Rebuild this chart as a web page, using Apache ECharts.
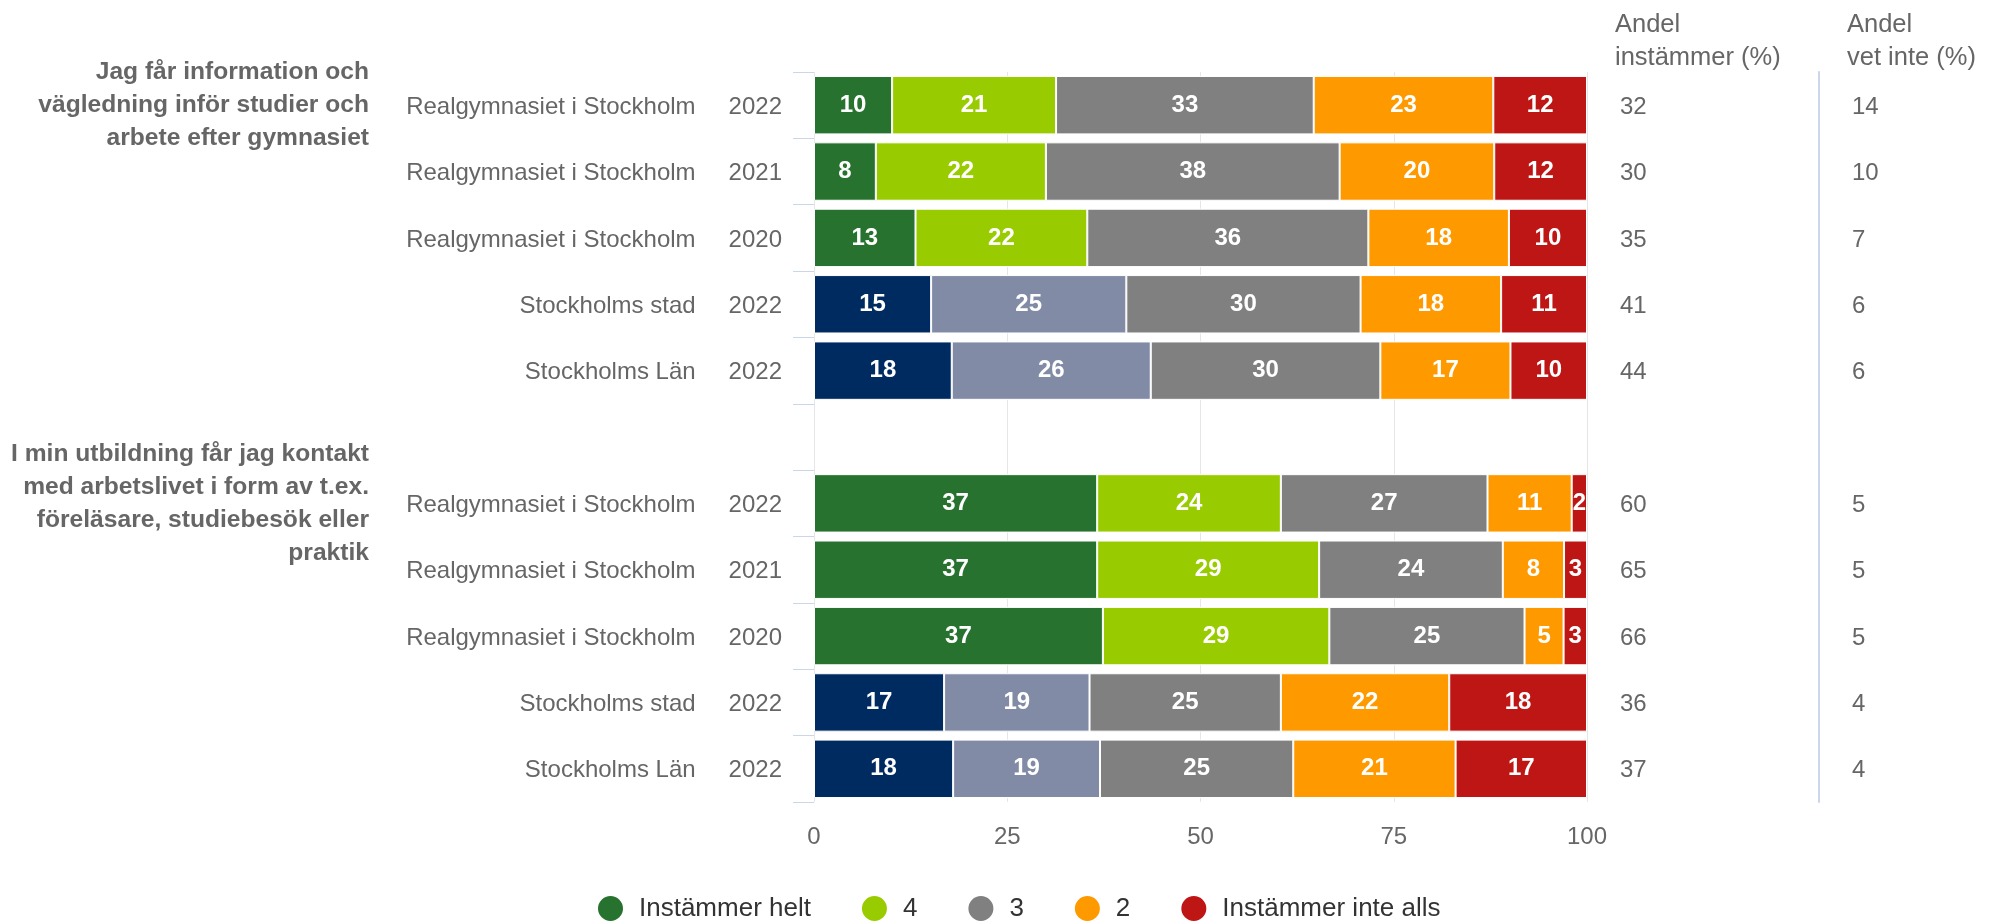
<!DOCTYPE html>
<html>
<head>
<meta charset="utf-8">
<style>
    html, body { margin: 0; padding: 0; background: #fff; }
    #chart { width: 1994px; height: 922px; }
</style>
<script src="https://cdn.jsdelivr.net/npm/echarts@6/dist/echarts.min.js"></script>
</head>
<body>
<div id="chart"></div>
<script>
// Rows, top to bottom (empty row separates the two questions)
var rowNames = [
    'Realgymnasiet i Stockholm', 'Realgymnasiet i Stockholm', 'Realgymnasiet i Stockholm',
    'Stockholms stad', 'Stockholms Län', '',
    'Realgymnasiet i Stockholm', 'Realgymnasiet i Stockholm', 'Realgymnasiet i Stockholm',
    'Stockholms stad', 'Stockholms Län'
];
var rowYears = ['2022', '2021', '2020', '2022', '2022', '', '2022', '2021', '2020', '2022', '2022'];
var questions = [
    'Jag får information och\nvägledning inför studier och\narbete efter gymnasiet', '', '', '', '', '',
    'I min utbildning får jag kontakt\nmed arbetslivet i form av t.ex.\nföreläsare, studiebesök eller\npraktik', '', '', '', ''
];

// Series values (%)
var seriesNames = ['Instämmer helt', '4', '3', '2', 'Instämmer inte alls'];
var helt      = [10, 8, 13, 15, 18, null, 37, 37, 37, 17, 18];
var fyra      = [21, 22, 22, 25, 26, null, 24, 29, 29, 19, 19];
var tre       = [33, 38, 36, 30, 30, null, 27, 24, 25, 25, 25];
var tva       = [23, 20, 18, 18, 17, null, 11, 8, 5, 22, 21];
var inteAlls  = [12, 12, 10, 11, 10, null, 2, 3, 3, 18, 17];

// Side columns
var andelInstammer = ['32', '30', '35', '41', '44', '', '60', '65', '66', '36', '37'];
var andelVetInte   = ['14', '10', '7', '6', '6', '', '5', '5', '5', '4', '4'];

// Tick labels
var xTicks = [0, 25, 50, 75, 100];

var seriesValues = [helt, fyra, tre, tva, inteAlls];
var seriesColors = ['#26722E', '#99CC00', '#808080', '#FF9900', '#BE1515'];
var compareColors = ['#002B60', '#828BA6'];

var chart = echarts.init(document.getElementById('chart'));

// row totals, used to stack as percent
var totals = rowNames.map(function (n, i) {
    var s = 0;
    seriesValues.forEach(function (arr) { s += arr[i] || 0; });
    return s;
});

var series = seriesValues.map(function (arr, k) {
    return {
        name: seriesNames[k],
        type: 'bar',
        stack: 'total',
        barCategoryGap: '12%',
        itemStyle: {
            color: seriesColors[k],
            borderColor: '#fff',
            borderWidth: 1
        },
        label: {
            show: true,
            position: 'inside',
            color: '#fff',
            fontWeight: 'bold',
            fontSize: 24,
            formatter: function (p) {
                return arr[p.dataIndex];
            }
        },
        emphasis: { disabled: true },
        data: arr.map(function (v, i) {
            if (v === null) return '-';
            var item = { value: v / totals[i] * 100 };
            // comparison rows use other colours for the first two answers
            if (k < 2 && rowNames[i].indexOf('Stockholms') === 0) {
                item.itemStyle = { color: compareColors[k] };
            }
            return item;
        })
    };
});

// right hand table column (value per row + header)
function sideAxis(title, values, offset, showLine) {
    return {
        type: 'category',
        inverse: true,
        position: 'right',
        offset: offset,
        data: rowNames,
        name: title,
        nameLocation: 'start',
        nameGap: -2,
        nameTextStyle: {
            color: '#666',
            fontSize: 25.5,
            lineHeight: 33,
            align: 'left',
            verticalAlign: 'bottom',
            padding: [0, 0, 0, 28]
        },
        axisLine: {
            show: showLine,
            lineStyle: { color: '#ccd6eb', width: 2 }
        },
        axisTick: { show: false },
        axisLabel: {
            interval: 0,
            margin: 33,
            formatter: function (v, i) {
                return values[i] ? '{v|' + values[i] + '}' : '';
            },
            rich: {
                v: { fontSize: 24, color: '#666', padding: [4, 0, 0, 0] }
            }
        }
    };
}

chart.setOption({
    animation: false,

    textStyle: {
        fontFamily: '"Liberation Sans", Arial, sans-serif'
    },

    grid: {
        left: 814,
        right: 407,
        top: 72,
        bottom: 120
    },

    legend: {
        data: seriesNames,
        top: 889,
        left: 591,
        icon: 'circle',
        itemWidth: 27,
        itemHeight: 27,
        itemGap: 49,
        textStyle: {
            fontSize: 26,
            color: '#333',
            padding: [0, 0, 0, 10]
        }
    },

    xAxis: {
        type: 'value',
        min: 0,
        max: 100,
        interval: 25,
        axisLine: { show: false },
        axisTick: { show: false },
        axisLabel: {
            color: '#666',
            fontSize: 24,
            margin: 23,
            formatter: function (v) {
                return xTicks.indexOf(v) >= 0 ? String(v) : '';
            }
        },
        splitLine: {
            show: true,
            lineStyle: { color: '#e6e6e6' }
        }
    },

    yAxis: [
        {
            // unit + year
            type: 'category',
            inverse: true,
            data: rowNames,
            axisLine: { show: false },
            axisTick: {
                show: true,
                length: 21,
                lineStyle: { color: '#ccd6eb' }
            },
            axisLabel: {
                interval: 0,
                margin: 32,
                formatter: function (v, i) {
                    if (!rowNames[i]) return '';
                    return '{n|' + rowNames[i] + '}{y|' + rowYears[i] + '}';
                },
                rich: {
                    n: { fontSize: 24, color: '#666', padding: [4, 0, 0, 0] },
                    y: { fontSize: 24, color: '#666', padding: [4, 0, 0, 33] }
                }
            }
        },
        {
            // question titles
            type: 'category',
            inverse: true,
            position: 'left',
            offset: 445,
            data: rowNames,
            axisLine: { show: false },
            axisTick: { show: false },
            axisLabel: {
                interval: 0,
                margin: 0,
                color: '#666',
                fontSize: 24.6,
                fontWeight: 'bold',
                lineHeight: 33,
                align: 'right',
                formatter: function (v, i) {
                    return questions[i];
                }
            }
        },
        sideAxis('Andel\ninstämmer (%)', andelInstammer, 0, false),
        sideAxis('Andel\nvet inte (%)', andelVetInte, 232, true)
    ],

    series: series
});
</script>
</body>
</html>
